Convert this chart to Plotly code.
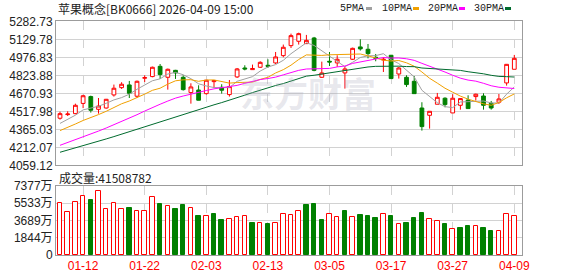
import plotly.graph_objects as go

# ---------------- data ----------------
dates = ["01-07", "01-08", "01-09", "01-12", "01-13", "01-14", "01-15", "01-16", "01-19", "01-20",
         "01-21", "01-22", "01-23", "01-26", "01-27", "01-28", "01-29", "01-30", "02-02", "02-03",
         "02-04", "02-05", "02-06", "02-09", "02-10", "02-11", "02-12", "02-13", "02-24", "02-25",
         "02-26", "02-27", "03-02", "03-03", "03-04", "03-05", "03-06", "03-09", "03-10", "03-11",
         "03-12", "03-13", "03-16", "03-17", "03-18", "03-19", "03-20", "03-23", "03-24", "03-25",
         "03-26", "03-27", "03-30", "03-31", "04-01", "04-02", "04-03", "04-07", "04-08", "04-09"]

opens = [4459, 4490, 4498, 4585, 4643, 4535, 4546, 4657, 4719, 4742,
         4646, 4799, 4813, 4900, 4807, 4866, 4807, 4677, 4699, 4668,
         4770, 4722, 4660, 4810, 4886, 4872, 4892, 4909, 4929, 4991,
         5076, 5113, 5093, 5141, 4807, 4943, 4929, 4844, 4960, 5065,
         5045, 4977, 4954, 4994, 4835, 4807, 4773, 4546, 4484, 4578,
         4629, 4504, 4569, 4614, 4643, 4648, 4586, 4595, 4759, 4875]
highs = [4515, 4518, 4583, 4658, 4651, 4631, 4623, 4745, 4765, 4776,
         4779, 4824, 4898, 4920, 4881, 4870, 4824, 4756, 4739, 4782,
         4784, 4748, 4784, 4886, 4909, 4915, 4943, 4960, 5022, 5085,
         5178, 5186, 5167, 5150, 4940, 5022, 4994, 4898, 5059, 5130,
         5090, 5005, 4977, 4997, 4895, 4824, 4818, 4595, 4518, 4674,
         4637, 4663, 4631, 4654, 4668, 4671, 4606, 4665, 4920, 4997]
lows = [4447, 4478, 4493, 4545, 4507, 4498, 4541, 4643, 4708, 4631,
        4631, 4767, 4807, 4793, 4702, 4793, 4694, 4583, 4611, 4660,
        4716, 4668, 4643, 4801, 4866, 4872, 4886, 4886, 4920, 4977,
        5056, 5085, 5093, 4858, 4801, 4903, 4895, 4711, 4954, 5034,
        4968, 4943, 4852, 4796, 4796, 4725, 4668, 4354, 4371, 4578,
        4552, 4504, 4532, 4541, 4609, 4532, 4532, 4580, 4736, 4875]
closes = [4498, 4495, 4569, 4650, 4527, 4563, 4620, 4714, 4748, 4671,
          4773, 4804, 4892, 4830, 4875, 4844, 4702, 4725, 4612, 4782,
          4779, 4697, 4728, 4878, 4878, 4881, 4934, 4900, 4980, 5062,
          5161, 5178, 5121, 4866, 4844, 4937, 4960, 4878, 5053, 5048,
          5008, 4968, 4960, 4796, 4886, 4745, 4668, 4388, 4518, 4637,
          4575, 4629, 4626, 4541, 4663, 4569, 4546, 4623, 4917, 4968]

ma5 = [4415, 4447, 4485, 4530, 4547.8, 4560.8, 4585.8, 4614.8, 4634.4, 4663.2,
       4705.2, 4742.0, 4777.6, 4794.0, 4834.8, 4849.0, 4828.6, 4795.2, 4751.6, 4733.0,
       4720.0, 4719.0, 4719.6, 4772.8, 4792.0, 4812.4, 4859.8, 4894.2, 4914.6, 4951.4,
       5007.4, 5056.2, 5100.4, 5077.6, 5034.0, 4989.2, 4945.6, 4897.0, 4934.4, 4975.2,
       4989.4, 4991.0, 5007.4, 4956.0, 4923.6, 4871.0, 4811.0, 4696.6, 4641.0, 4591.2,
       4557.2, 4549.4, 4597.0, 4601.6, 4606.8, 4605.6, 4589.0, 4588.4, 4663.6, 4724.6]
ma10 = [4354, 4380, 4410, 4440, 4462, 4490, 4518, 4550, 4582, 4605.5,
        4633.0, 4663.9, 4696.2, 4714.2, 4749.0, 4777.1, 4785.3, 4786.4, 4772.8, 4783.9,
        4784.5, 4773.8, 4757.4, 4762.2, 4762.5, 4766.2, 4789.4, 4806.9, 4843.7, 4871.7,
        4909.9, 4958.0, 4997.3, 4996.1, 4992.7, 4998.3, 5000.9, 4998.7, 5006.0, 5004.6,
        4989.3, 4968.3, 4952.2, 4945.2, 4949.4, 4930.2, 4901.0, 4852.0, 4798.5, 4757.4,
        4714.1, 4680.2, 4646.8, 4621.3, 4599.0, 4581.4, 4569.2, 4592.7, 4632.6, 4665.7]
ma20 = [4229, 4252, 4276, 4301, 4325, 4350, 4376, 4403, 4431, 4459,
        4489, 4520, 4552, 4578, 4605, 4630, 4648, 4665, 4678, 4694.7,
        4708.8, 4718.9, 4726.8, 4738.2, 4755.8, 4771.7, 4787.4, 4796.7, 4808.3, 4827.8,
        4847.2, 4865.9, 4877.4, 4879.2, 4877.6, 4882.3, 4895.2, 4902.8, 4924.9, 4938.2,
        4949.6, 4963.2, 4974.8, 4970.7, 4971.1, 4964.3, 4951.0, 4925.4, 4902.3, 4881.0,
        4851.7, 4824.3, 4799.5, 4783.3, 4774.2, 4755.8, 4735.1, 4722.4, 4715.6, 4711.6]
ma30 = [4170, 4188, 4207, 4227, 4245, 4264, 4283, 4303, 4324, 4343,
        4364, 4386, 4408, 4430, 4452, 4473, 4492, 4512, 4530, 4552,
        4573, 4592, 4611, 4633, 4655, 4677, 4699, 4719, 4737, 4753.7,
        4775.8, 4798.6, 4817.0, 4824.2, 4834.7, 4847.2, 4858.5, 4864.0, 4874.2, 4886.7,
        4894.6, 4900.0, 4902.3, 4901.2, 4901.5, 4898.2, 4897.1, 4885.9, 4882.7, 4877.9,
        4871.1, 4868.8, 4865.4, 4854.2, 4847.0, 4836.6, 4823.7, 4814.5, 4812.4, 4809.2]

# volume in 万 (10k shares)
volume = [5515, 4548, 5622, 6267, 5873, 6804, 4870, 5515, 4870, 4978,
          4655, 4655, 6159, 5443, 5192, 4906, 5336, 4978, 4154, 4118,
          4369, 3724, 3796, 4011, 4118, 3402, 3474, 3295, 3474, 4369,
          4226, 4655, 5336, 5443, 3724, 4333, 4011, 4655, 4011, 4261,
          4154, 3939, 4333, 4154, 3366, 3402, 3939, 4476, 3796, 3688,
          3295, 2829, 2865, 3080, 3151, 2865, 2543, 2614, 4333, 4150.8782]
vol_up = [1, 1, 1, 1, 0, 1, 1, 1, 1, 0,
          1, 1, 1, 0, 1, 0, 0, 1, 0, 1,
          0, 0, 1, 1, 1, 0, 1, 0, 1, 1,
          1, 1, 0, 0, 0, 1, 1, 0, 1, 0,
          0, 0, 1, 0, 1, 0, 0, 0, 1, 1,
          0, 1, 0, 0, 1, 0, 0, 1, 1, 1]

date_ticks = ["01-12", "01-22", "02-03", "02-13", "03-05", "03-17", "03-27", "04-09"]
price_ticks = [4059.12, 4212.07, 4365.03, 4517.98, 4670.93, 4823.88, 4976.83, 5129.78, 5282.73]
vol_ticks = [0, 1844, 3689, 5533, 7377]
vol_tick_text = ["0", "1844万", "3689万", "5533万", "7377万"]

ma_names = ["5PMA", "10PMA", "20PMA", "30PMA"]
ma_colors = ["#a0a0a0", "#f0a000", "#ff00ff", "#006b2e"]
title_text = "苹果概念[BK0666] 2026-04-09 15:00"
vol_title = "成交量:41508782"
watermark = "东方财富"

# ---------------- layout helpers ----------------
W, H = 578, 276
RED = "#ff0000"
GREEN = "#008000"
FRAME = "#9c9c9c"
GRID = "#d2d2d2"
AXFONT = dict(family="Liberation Sans, Arial, Noto Sans CJK SC", size=12, color="#222222")


def fx(px):
    return px / W


def fy(py):
    return 1 - py / H


x_left, x_right = 56, 522
main_top, main_bot = 21.3, 165.3
vol_top, vol_bot = 186, 255
xrange = [-0.52, len(dates) - 0.0]

fig = go.Figure()

ma_lists = [ma5, ma10, ma20, ma30]
for name, vals, col in zip(ma_names, ma_lists, ma_colors):
    fig.add_trace(go.Scatter(x=dates, y=vals, mode="lines", name=name,
                             line=dict(color=col, width=1), xaxis="x", yaxis="y",
                             showlegend=False, hoverinfo="skip"))

fig.add_trace(go.Candlestick(
    x=dates, open=opens, high=highs, low=lows, close=closes,
    increasing=dict(line=dict(color=RED, width=1), fillcolor="white"),
    decreasing=dict(line=dict(color=GREEN, width=1), fillcolor=GREEN),
    whiskerwidth=0, xaxis="x", yaxis="y", showlegend=False))

fig.add_trace(go.Bar(
    x=dates, y=volume, width=0.58,
    marker=dict(color=["white" if u else GREEN for u in vol_up],
                line=dict(color=[RED if u else GREEN for u in vol_up], width=1)),
    xaxis="x2", yaxis="y2", showlegend=False))

common_x = dict(type="category", range=xrange, categoryorder="array", categoryarray=dates,
                tickmode="array", tickvals=date_ticks, showgrid=True, gridcolor=GRID,
                griddash="dash", gridwidth=1, showline=True, mirror=True, linecolor=FRAME,
                linewidth=1, ticks="", zeroline=False, fixedrange=True, automargin=False,
                rangeslider=dict(visible=False))

fig.update_layout(
    width=W, height=H,
    margin=dict(l=0, r=0, t=0, b=0),
    paper_bgcolor="white", plot_bgcolor="white",
    bargap=0,
    xaxis=dict(domain=[fx(x_left), fx(x_right)], anchor="y", showticklabels=False, **common_x),
    xaxis2=dict(domain=[fx(x_left), fx(x_right)], anchor="y2", showticklabels=True,
                ticktext=date_ticks, tickfont=dict(family="Liberation Sans, Arial", size=12, color=RED),
                **common_x),
    yaxis=dict(domain=[fy(main_bot), fy(main_top)], anchor="x", range=[price_ticks[0], price_ticks[-1]],
               tickmode="array", tickvals=price_ticks, ticktext=[f"{v:.2f}" for v in price_ticks],
               showgrid=True, gridcolor=GRID, gridwidth=1, showline=True, mirror=True,
               linecolor=FRAME, linewidth=1, ticks="", zeroline=False, tickfont=AXFONT,
               automargin=False, fixedrange=True),
    yaxis2=dict(domain=[fy(vol_bot), fy(vol_top)], anchor="x2", range=[0, vol_ticks[-1]],
                tickmode="array", tickvals=vol_ticks, ticktext=vol_tick_text,
                showgrid=True, gridcolor=GRID, gridwidth=1, showline=True, mirror=True,
                linecolor=FRAME, linewidth=1, ticks="", zeroline=False, tickfont=AXFONT,
                automargin=False, fixedrange=True),
)

annotations = [
    dict(text=title_text, xref="paper", yref="paper", x=fx(56), y=fy(8.5), xanchor="left",
         yanchor="middle", showarrow=False,
         font=dict(family="Noto Sans CJK SC", size=12, color="#222222")),
    dict(text=vol_title, xref="paper", yref="paper", x=fx(57), y=fy(177), xanchor="left",
         yanchor="middle", showarrow=False,
         font=dict(family="Noto Sans CJK SC", size=12, color="#222222")),
    dict(text="<b>" + watermark + "</b>", xref="paper", yref="paper", x=fx(308), y=fy(93),
         xanchor="center", yanchor="middle", showarrow=False,
         font=dict(family="Noto Sans CJK SC", size=34, color="rgba(165,165,185,0.26)")),
]

legend_text_x = [338, 380, 426, 472]
legend_mark_x = [366, 413, 459, 505]
shapes = []
for name, col, tx, mx in zip(ma_names, ma_colors, legend_text_x, legend_mark_x):
    annotations.append(dict(text=name, xref="paper", yref="paper", x=fx(tx), y=fy(8.5),
                            xanchor="left", yanchor="middle", showarrow=False,
                            font=dict(family="Liberation Mono, DejaVu Sans Mono", size=10,
                                      color="#222222")))
    shapes.append(dict(type="rect", xref="paper", yref="paper", x0=fx(mx), x1=fx(mx + 6),
                       y0=fy(10), y1=fy(7), fillcolor=col, line=dict(width=0)))

fig.update_layout(annotations=annotations, shapes=shapes)

fig.write_html("out.html")
